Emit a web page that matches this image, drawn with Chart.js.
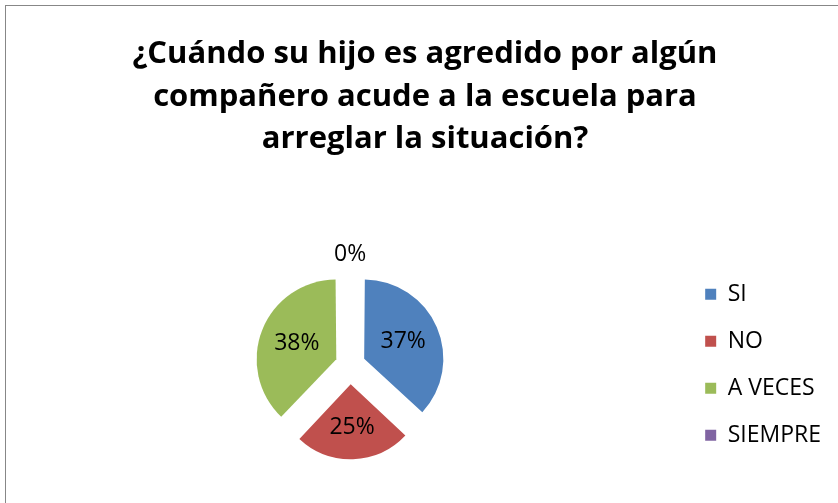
<!DOCTYPE html>
<html>
<head>
<meta charset="utf-8">
<script src="https://cdn.jsdelivr.net/npm/chart.js@4/dist/chart.umd.min.js"></script>
<style>
  html, body { margin: 0; padding: 0; background: #fff; overflow: hidden; width: 838px; height: 503px; }
  #frame { position: absolute; left: 5px; top: 5px; width: 900px; height: 600px; border-left: 1px solid #878787; border-top: 1px solid #878787; }
  #c { position: absolute; left: 0; top: 0; }
</style>
</head>
<body>
<div id="frame"></div>
<canvas id="c" width="838" height="503"></canvas>
<script>
const titleLines = ["¿Cuándo su hijo es agredido por algún", "compañero acude a la escuela para", "arreglar la situación?"];
const categories = ["SI", "NO", "A VECES", "SIEMPRE"];
const values = [37, 25, 38, 0];
const colors = ["#4F81BD", "#C0504D", "#9BBB59", "#8064A2"];

// desired visual explosion distance (px), same for every slice
const EXPLODE = 19.5;
// Chart.js moves an arc by offset/4 * (2 - sin(min(PI, circumference))) -> compensate per slice
function explodeFactor(circ) { return 2 - Math.sin(Math.min(Math.PI, circ)); }
const totalVal = values.reduce((a, b) => a + b, 0);
const sliceOffsets = values.map(v => 4 * EXPLODE / explodeFactor(v / totalVal * 2 * Math.PI));

const pctLabels = {
  id: 'pctLabels',
  afterDatasetsDraw(chart) {
    const ctx = chart.ctx;
    const meta = chart.getDatasetMeta(0);
    const data = chart.data.datasets[0].data;
    const total = data.reduce((a, b) => a + b, 0);
    ctx.save();
    ctx.font = '23px "Open Sans", sans-serif';
    ctx.fillStyle = '#000';
    ctx.textAlign = 'center';
    ctx.textBaseline = 'middle';
    meta.data.forEach((arc, i) => {
      const p = arc.getProps(['x', 'y', 'startAngle', 'endAngle', 'outerRadius'], true);
      const circ = p.endAngle - p.startAngle;
      const half = circ / 2;
      const mid = p.startAngle + half;
      let dist;
      if (data[i] === 0) {
        dist = p.outerRadius + EXPLODE + 16;
      } else {
        const off = (arc.options.offset || 0) / 4 * explodeFactor(circ);
        // near the centroid of the sector
        const centroid = 2 * p.outerRadius * Math.sin(half) / (3 * half);
        dist = off + 0.97 * centroid;
      }
      const x = p.x + Math.cos(mid) * dist;
      const y = p.y + Math.sin(mid) * dist;
      ctx.fillText(Math.round(data[i] / total * 100) + '%', x, y);
    });
    ctx.restore();
  }
};

new Chart(document.getElementById('c'), {
  type: 'pie',
  data: {
    labels: categories,
    datasets: [{
      data: values,
      backgroundColor: colors,
      borderWidth: 0,
      offset: sliceOffsets,
      hoverOffset: 0
    }]
  },
  options: {
    responsive: false,
    animation: false,
    radius: 75,
    layout: { padding: { left: 19, right: 7, top: 0, bottom: 0 } },
    plugins: {
      tooltip: { enabled: false },
      title: {
        display: true,
        text: titleLines,
        color: '#000',
        font: { family: '"Open Sans", sans-serif', size: 31, weight: 'bold', lineHeight: 1.371 },
        padding: { top: 33, bottom: 66 }
      },
      legend: {
        position: 'right',
        align: 'center',
        fullSize: false,
        labels: {
          color: '#000',
          boxWidth: 11,
          boxHeight: 11,
          padding: 24,
          font: { family: '"Open Sans", sans-serif', size: 23 }
        }
      }
    }
  },
  plugins: [pctLabels]
});
</script>
</body>
</html>
